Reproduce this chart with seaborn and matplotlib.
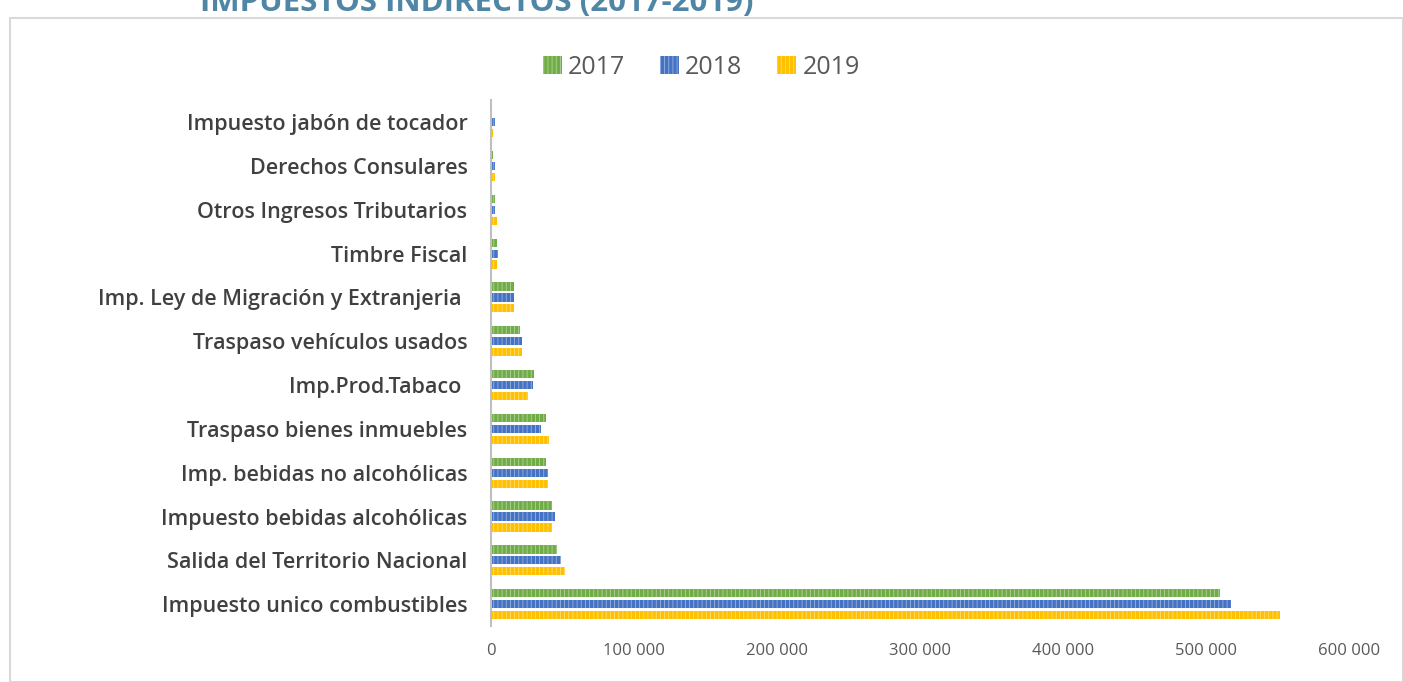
#Impuestos indirectos 2017-2019, grouped horizontal bars

import seaborn as sns
import matplotlib.pyplot as plt
import pandas as pd
from matplotlib.patches import Rectangle
from matplotlib.ticker import FuncFormatter

categorias = ["Impuesto jabón de tocador", "Derechos Consulares", "Otros Ingresos Tributarios",
              "Timbre Fiscal", "Imp. Ley de Migración y Extranjeria ", "Traspaso vehículos usados",
              "Imp.Prod.Tabaco ", "Traspaso bienes inmuebles", "Imp. bebidas no alcohólicas",
              "Impuesto bebidas alcohólicas", "Salida del Territorio Nacional", "Impuesto unico combustibles"]
anios = ["2017", "2018", "2019"]
v2017 = [700, 1200, 2500, 4000, 16300, 20300, 30100, 38200, 38200, 42400, 46400, 509800]
v2018 = [2800, 2600, 2500, 5000, 16300, 21700, 29600, 35000, 39600, 44800, 48700, 517500]
v2019 = [1200, 2800, 4000, 4000, 16300, 21700, 26100, 40800, 39600, 42400, 52000, 551700]
colores = ["#70AD47", "#4472C4", "#FFC000"]
xticks = [0, 100000, 200000, 300000, 400000, 500000, 600000]

df = pd.DataFrame({"cat": categorias * 3,
                   "anio": [a for a in anios for _ in categorias],
                   "valor": v2017 + v2018 + v2019})

sns.set_style("white")
plt.rcParams["font.family"] = ["Open Sans", "DejaVu Sans"]
plt.rcParams["hatch.linewidth"] = 0.6

fig = plt.figure(figsize=(14.03, 6.82), dpi=100)
ax = fig.add_axes([0.35, 0.082, 0.6115, 0.771])

sns.barplot(data=df, y="cat", x="valor", hue="anio", order=categorias, hue_order=anios,
            palette=colores, width=0.75, gap=0.25, saturation=1, errorbar=None,
            edgecolor="white", linewidth=0, ax=ax)
for p in ax.patches:
    p.set_hatch("||||")
    p.set_edgecolor((1, 1, 1, 0.45))

ax.set_xlim(0, 600000)
ax.set_xticks(xticks)
ax.xaxis.set_major_formatter(FuncFormatter(lambda v, _: f"{int(v):,}".replace(",", " ")))
ax.set_xlabel("")
ax.set_ylabel("")
for s in ["top", "right", "bottom"]:
    ax.spines[s].set_visible(False)
ax.spines["left"].set_color("#BFBFBF")
ax.spines["left"].set_linewidth(1.5)
ax.tick_params(axis="both", length=0)
ax.tick_params(axis="x", labelsize=12, labelcolor="#595959", pad=12)
ax.tick_params(axis="y", labelsize=15.5, labelcolor="#404040", pad=17)
for t in ax.get_yticklabels():
    t.set_fontweight("semibold")

leg = ax.legend(loc="center", bbox_to_anchor=(0.245, 1 + 33 / 526), ncol=3, frameon=False,
                fontsize=18, handlelength=0.75, handleheight=0.75, handletextpad=0.25, columnspacing=1.4)
for t in leg.get_texts():
    t.set_color("#595959")

# marco gris alrededor del grafico
fig.patches.append(Rectangle((10 / 1403, 0), 1 - 10 / 1403, 1 - 18 / 682, transform=fig.transFigure,
                             fill=False, edgecolor="#D9D9D9", linewidth=1.5))

fig.text(477 / 1403, 1 - 11 / 682, "IMPUESTOS INDIRECTOS (2017-2019)", ha="center", va="baseline",
         fontsize=22.5, fontweight="bold", color="#4F86A6")

fig.savefig("out.png", dpi=100)
